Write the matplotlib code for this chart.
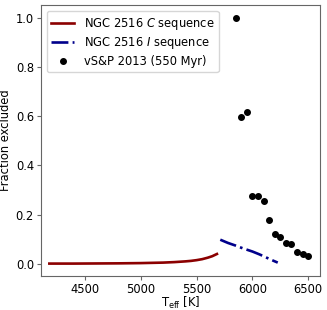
import matplotlib.pyplot as plt

# NGC 2516 C sequence
teff_c = [4180, 4400, 4600, 4800, 5000, 5100, 5200, 5300, 5400, 5450, 5500, 5550, 5600, 5640, 5682]
frac_c = [0.001, 0.001, 0.0015, 0.002, 0.003, 0.004, 0.005, 0.007, 0.010, 0.012, 0.015, 0.019, 0.025, 0.031, 0.040]

# NGC 2516 I sequence
teff_i = [5712, 5780, 5850, 5920, 6000, 6060, 6100, 6160, 6227]
frac_i = [0.098, 0.085, 0.074, 0.062, 0.050, 0.039, 0.031, 0.018, 0.005]

# vS&P 2013 (550 Myr)
teff_v = [5850, 5900, 5950, 6000, 6050, 6100, 6150, 6200, 6250, 6300, 6350, 6400, 6450, 6500]
frac_v = [1.0, 0.595, 0.615, 0.275, 0.275, 0.255, 0.178, 0.12, 0.108, 0.085, 0.08, 0.05, 0.04, 0.032]

plt.rcParams['font.size'] = 8.3
fig, ax = plt.subplots(figsize=(3.27, 3.10), dpi=100)
fig.subplots_adjust(left=0.125, right=0.978, top=0.983, bottom=0.11)

ax.plot(teff_c, frac_c, color='#8b0000', lw=1.9, label='NGC 2516 $C$ sequence')
ax.plot(teff_i, frac_i, color='#00008b', lw=1.9, ls='-.', label='NGC 2516 $I$ sequence')
ax.plot(teff_v, frac_v, 'o', color='k', ms=4, label='vS&P 2013 (550 Myr)')

ax.set_xlim(4104, 6604)
ax.set_ylim(-0.049, 1.05)
ax.set_xticks([4500, 5000, 5500, 6000, 6500])
ax.set_xlabel(r'T$_{\rm eff}$ [K]', labelpad=-1)
ax.set_ylabel('Fraction excluded', labelpad=3)

for s in ax.spines.values():
    s.set_color('#666666')
ax.tick_params(color='#666666', length=3, pad=2)

ax.legend(loc='upper left', fontsize=8.3, handlelength=2.0, handletextpad=0.8,
          borderpad=0.4, labelspacing=0.3)

fig.savefig('out.png')
